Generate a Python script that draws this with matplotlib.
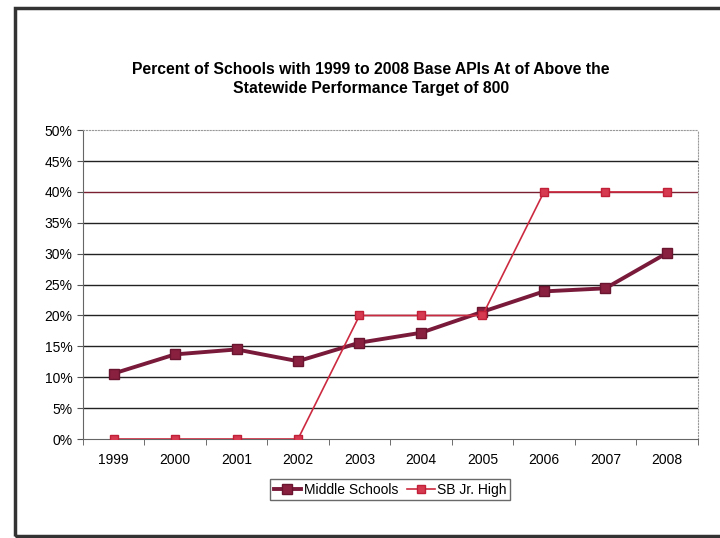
import matplotlib.pyplot as plt
from matplotlib.patches import Rectangle
from matplotlib.ticker import FuncFormatter

# chart data
years = ['1999', '2000', '2001', '2002', '2003', '2004', '2005', '2006', '2007', '2008']
middle_schools = [10.6, 13.7, 14.5, 12.6, 15.6, 17.2, 20.6, 23.9, 24.4, 30.1]
sb_jr_high = [0, 0, 0, 0, 20, 20, 20, 40, 40, 40]
y_ticks = [0, 5, 10, 15, 20, 25, 30, 35, 40, 45, 50]

fig = plt.figure(figsize=(7.2, 5.38), dpi=100)
plt.rcParams['font.family'] = ['Liberation Sans', 'DejaVu Sans']

# outer frame of the chart
fig.patches.append(Rectangle((0.021, 0.004), 0.99, 0.981, transform=fig.transFigure,
                             fill=False, edgecolor='#333333', linewidth=2.5))

ax = fig.add_axes([0.115, 0.184, 0.854, 0.574])
x = range(len(years))

# horizontal grid lines
for v in y_ticks[1:-1]:
    col = '#7a2030' if v == 40 else '#222222'
    ax.axhline(v, color=col, linewidth=1.0, zorder=1)

ax.plot(x, middle_schools, color='#7a1a3a', linewidth=2.8, marker='s', markersize=7,
        markerfacecolor='#8a2040', markeredgecolor='#6a1530', label='Middle Schools', zorder=3)
ax.plot(x, sb_jr_high, color='#cc2a40', linewidth=1.2, marker='s', markersize=6,
        markerfacecolor='#d63a50', markeredgecolor='#c02038', label='SB Jr. High', zorder=4)

ax.set_xlim(-0.5, len(years) - 0.5)
ax.set_ylim(0, 50)
ax.set_yticks(y_ticks)
ax.yaxis.set_major_formatter(FuncFormatter(lambda v, p: f'{int(v)}%'))
ax.set_xticks(list(x))
ax.set_xticklabels(years)
ax.set_xticks([i - 0.5 for i in range(len(years) + 1)], minor=True)
ax.tick_params(axis='x', which='major', length=0, pad=10, labelsize=10)
ax.tick_params(axis='x', which='minor', length=4, color='#555555', direction='out')
ax.tick_params(axis='y', length=4, color='#555555', labelsize=10)

for s in ['left', 'bottom']:
    ax.spines[s].set_color('#666666')
ax.spines['top'].set_color('#999999')
ax.spines['top'].set_linestyle(':')
ax.spines['right'].set_color('#999999')
ax.spines['right'].set_linestyle(':')

fig.text(0.515, 0.853, 'Percent of Schools with 1999 to 2008 Base APIs At of Above the\nStatewide Performance Target of 800',
         ha='center', va='center', fontsize=11.3, fontweight='bold', linespacing=1.35)

leg = ax.legend(loc='center', bbox_to_anchor=(0.5, -0.165), ncol=2, frameon=True, fancybox=False,
                edgecolor='#444444', fontsize=10, handlelength=2.0, handletextpad=0.2,
                columnspacing=0.6, borderpad=0.25)
leg.get_frame().set_linewidth(1.0)

plt.savefig('out.png', dpi=100)
